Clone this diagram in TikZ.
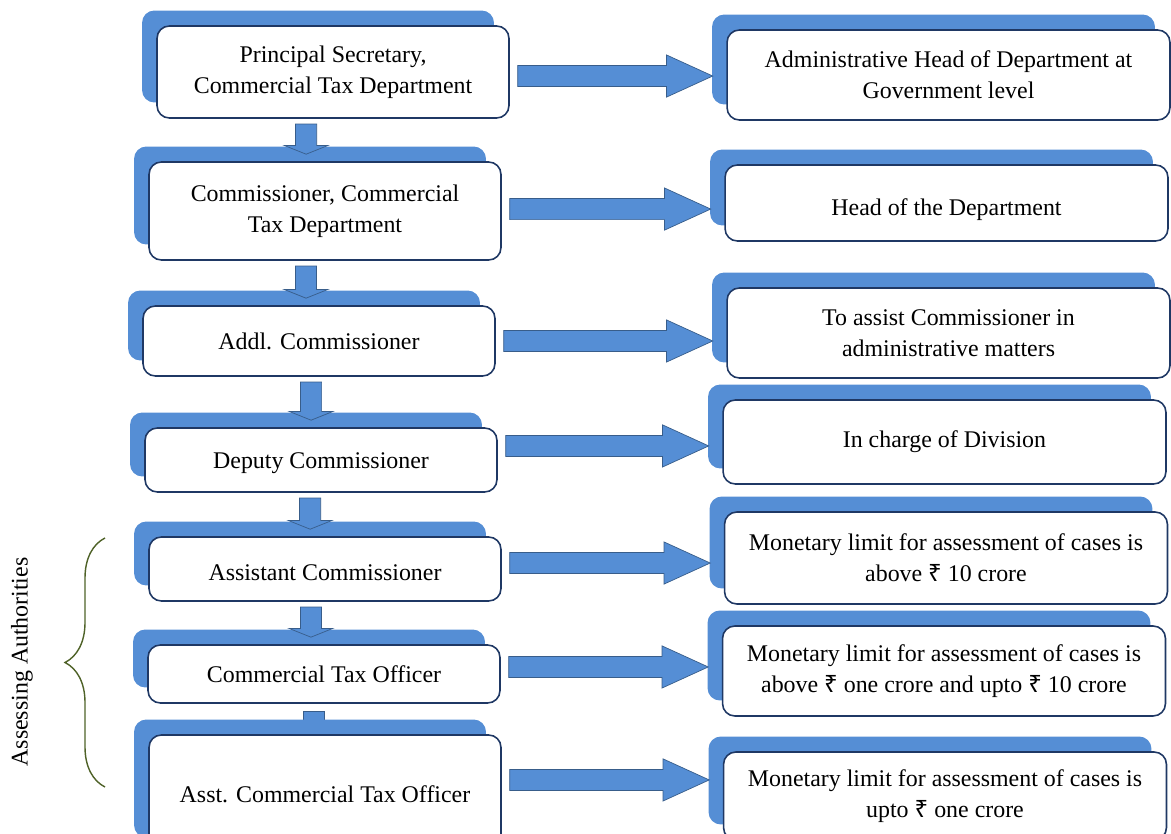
\documentclass[tikz,border=0pt]{standalone}
\usepackage{fontspec}
\setmainfont{Liberation Serif}
\newfontfamily\rupeefont{Noto Sans}
\newcommand\rs{{\rupeefont ₹}}
\usetikzlibrary{calc,shadows,backgrounds,decorations.pathreplacing}
\definecolor{boxblue}{RGB}{85,142,213}
\definecolor{lineblue}{RGB}{31,56,100}
\definecolor{arrowline}{RGB}{56,93,138}
\definecolor{braceolive}{RGB}{79,98,40}

\begin{document}
\begin{tikzpicture}[x=0.02cm,y=-0.02cm,
  post/.style={draw=lineblue,line width=0.9pt,fill=white,rounded corners=7pt,align=center,
    font=\fontsize{13.6}{17.6}\selectfont,
    drop shadow={shadow xshift=-0.3cm,shadow yshift=0.31cm,fill=boxblue,opacity=1}},
  rank/.style={post,minimum width=7.04cm},
  duty/.style={post,minimum width=8.86cm},
  rarrow/.style={fill=boxblue,draw=arrowline,line width=0.4pt,
    to path={let \p1=(\tikztostart.east), \p2=(\tikztotarget.west) in
    (\x1+4.5pt,\y1+#1-6pt) -- (\x2-34pt,\y1+#1-6pt) -- (\x2-34pt,\y1+#1-12pt) -- (\x2-7.7pt,\y1+#1)
    -- (\x2-34pt,\y1+#1+12pt) -- (\x2-34pt,\y1+#1+6pt) -- (\x1+4.5pt,\y1+#1+6pt) -- cycle}},
  darrow/.style={fill=boxblue,draw=arrowline,line width=0.4pt,
    to path={let \p1=(\tikztostart.south), \p2=(\tikztotarget.north) in
    (\x1+#1-6pt,\y1-3pt) -- (\x1+#1-6pt,\y2+9pt) -- (\x1+#1-12.5pt,\y2+9pt) -- (\x1+#1,\y2+4pt)
    -- (\x1+#1+12.5pt,\y2+9pt) -- (\x1+#1+6pt,\y2+9pt) -- (\x1+#1+6pt,\y1-3pt) -- cycle}},
  dbar/.style={fill=boxblue,draw=arrowline,line width=0.4pt,
    to path={let \p1=(\tikztostart.south), \p2=(\tikztotarget.north) in
    (\x1+#1-6pt,\y1-4.5pt) rectangle (\x1+#1+6pt,\y2)}}]

\useasboundingbox (0,0) rectangle (1171,834);

\node[rank,minimum height=1.84cm] (l1) at (333,72) {Principal Secretary,\\Commercial Tax Department};
\node[rank,minimum height=1.96cm] (l2) at (325,211) {Commissioner, Commercial\\Tax Department};
\node[rank,minimum height=1.4cm] (l3) at (319,341) {Addl. Commissioner};
\node[rank,minimum height=1.28cm,text height=13pt] (l4) at (321,460) {Deputy Commissioner};
\node[rank,minimum height=1.28cm,text height=13pt] (l5) at (325,569) {Assistant Commissioner};
\node[rank,minimum height=1.16cm] (l6) at (324,674) {Commercial Tax Officer};
\node[rank,minimum height=2.36cm] (l7) at (325,794) {Asst. Commercial Tax Officer};

\node[duty,minimum height=1.8cm] (r1) at (948.5,75) {Administrative Head of Department at\\Government level};
\node[duty,minimum height=1.52cm,text height=17.5pt] (r2) at (946.5,203) {Head of the Department};
\node[duty,minimum height=1.8cm] (r3) at (948.5,333) {To assist Commissioner in\\administrative matters};
\node[duty,minimum height=1.68cm] (r4) at (944.5,442) {In charge of Division};
\node[duty,minimum height=1.84cm] (r5) at (946,558) {Monetary limit for assessment of cases is\\above \rs{} 10 crore};
\node[duty,minimum height=1.8cm] (r6) at (944,671) {Monetary limit for assessment of cases is\\above \rs{} one crore and upto \rs{} 10 crore};
\node[duty,minimum height=1.76cm] (r7) at (945,796) {Monetary limit for assessment of cases is\\upto \rs{} one crore};

\draw[darrow=-15.3pt] (l1) to (l2);
\draw[darrow=-10.8pt] (l2) to (l3);
\draw[darrow=-4.5pt] (l3) to (l4);
\draw[darrow=-6.2pt] (l4) to (l5);
\draw[darrow=-8pt] (l5) to (l6);
\begin{pgfonlayer}{background}
\draw[dbar=-6pt] (l6) to (l7);
\end{pgfonlayer}

\draw[rarrow=-2.3pt] (l1) to (r1);
\draw[rarrow=1.1pt] (l2) to (r2);
\draw[rarrow=0pt] (l3) to (r3);
\draw[rarrow=8pt] (l4) to (r4);
\draw[rarrow=3.4pt] (l5) to (r5);
\draw[rarrow=4pt] (l6) to (r6);
\draw[rarrow=8pt] (l7) to (r7);

\draw[braceolive,line width=0.8pt,decorate,decoration={brace,amplitude=0.8cm}] (105,787) -- (105,538);
\node[rotate=90,font=\fontsize{13.6}{17.6}\selectfont] (assess) at (22,662) {Assessing Authorities};

\end{tikzpicture}
\end{document}
